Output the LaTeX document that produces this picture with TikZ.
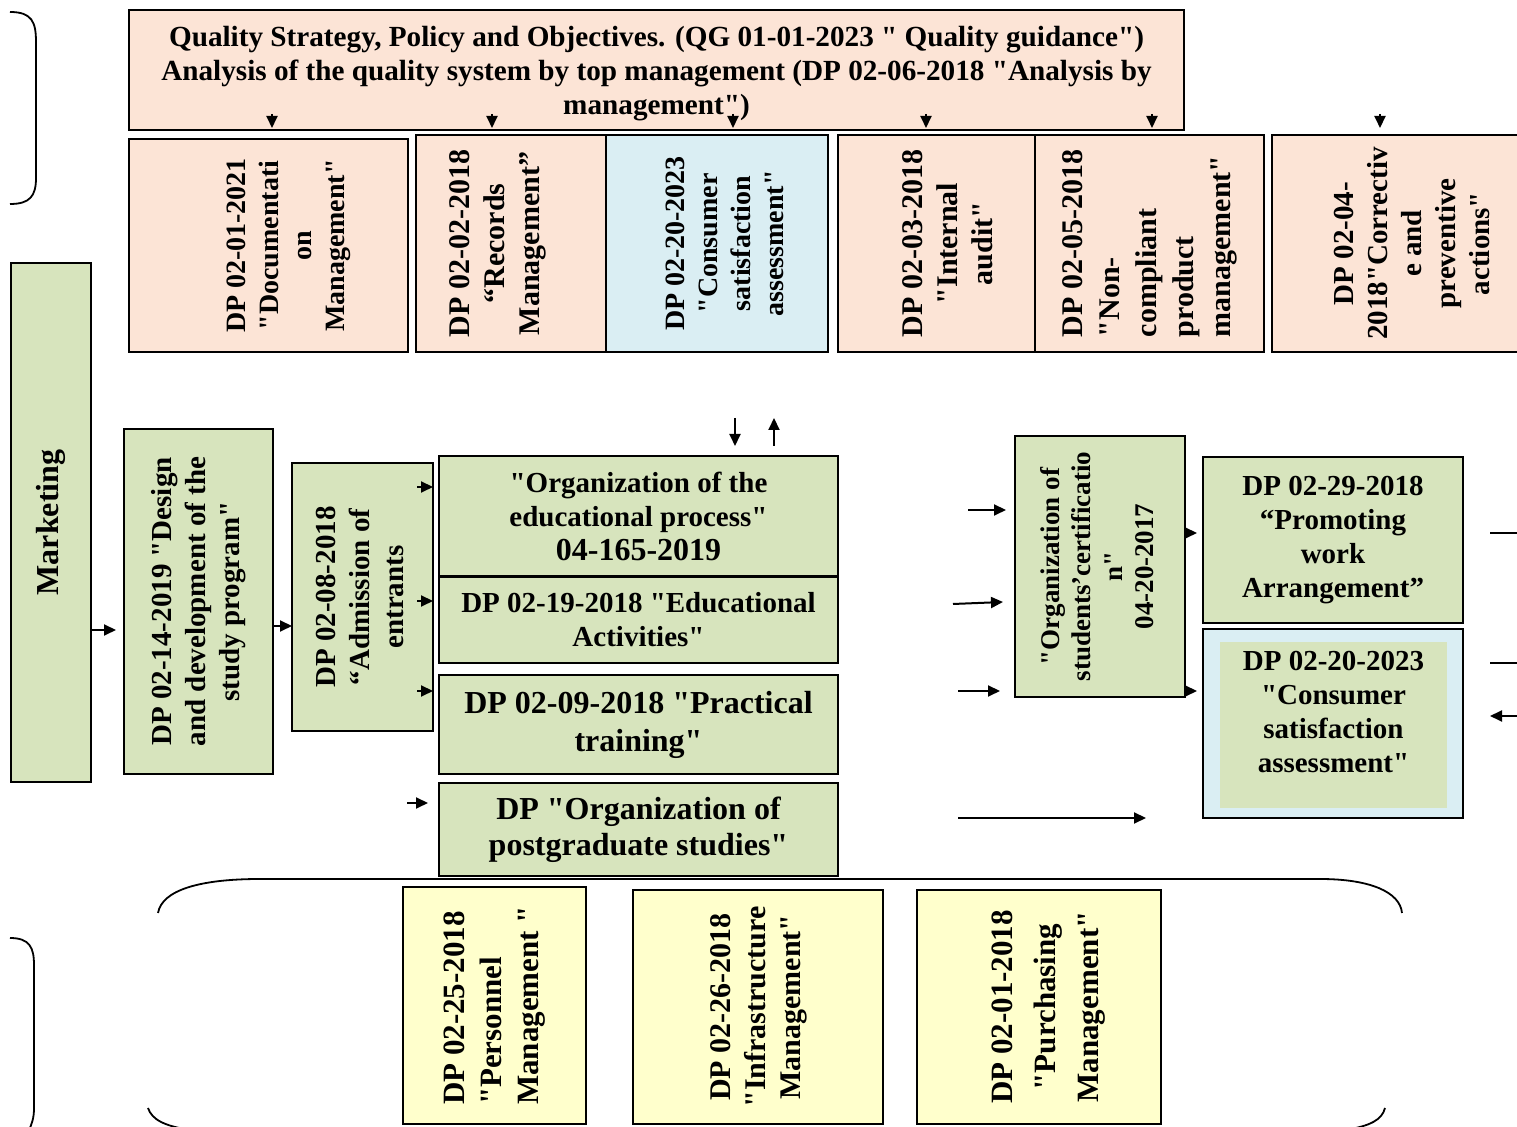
\documentclass[tikz,border=0pt]{standalone}
\usepackage{fontspec}
\setmainfont{Liberation Serif}[Ligatures=TeXOff]
\usepackage{graphicx}
\usetikzlibrary{arrows.meta}
\definecolor{peach}{RGB}{252,228,214}
\definecolor{leaf}{RGB}{215,228,189}
\definecolor{sky}{RGB}{218,238,243}
\definecolor{cream}{RGB}{255,255,204}
\newcommand{\vtext}[2][c]{\rotatebox{90}{\begin{tabular}{@{}#1@{}}#2\end{tabular}}}
\newcommand{\fs}[2]{\bfseries\fontsize{#1}{#2}\selectfont}

\begin{document}
\begin{tikzpicture}[x=0.5pt, y=-0.5pt,
    every node/.style={
    rectangle,
    draw,
    line width=0.9pt,
    inner sep=0pt,
    outer sep=0pt,
    font=\fs{14.5}{17}
},
    tip/.style={-{Triangle[length=6pt,width=5.5pt]}, line width=1pt},
    brace/.style={line width=0.9pt}
]
    \useasboundingbox (0,0) rectangle (1517,1127);
    \clip (0,0) rectangle (1517,1127);
    % top part
    \node (quality) [fill=peach, minimum width=527.5pt, minimum height=60pt, align=center, text depth=0pt, font=\fs{14.6}{17}] at (656.5,70)
    {
        Quality Strategy, Policy and Objectives. (QG 01-01-2023 " Quality guidance")\\
        Analysis of the quality system by top management (DP 02-06-2018 "Analysis by\\
        management")
    };
    \node (docs_mgmt) [fill=peach, minimum width=139.5pt, minimum height=106.5pt, font=\fs{14}{16.5}] at (268.5,245.5)
    {
        \hspace*{20pt}\vtext{DP 02-01-2021\\"Documentati\\on\\Management"}
    };
    \node (records_mgmt) [fill=peach, minimum width=95pt, minimum height=108.5pt, font=\fs{15}{17.5}] at (511,243.5)
    {
        \vtext{DP 02-02-2018\\“Records\\Management”}\hspace*{14pt}
    };
    \node (consumer_top) [fill=sky, minimum width=111pt, minimum height=108.5pt, font=\fs{14}{16.5}] at (717,243.5)
    {
        \hspace*{10pt}\vtext{DP 02-20-2023\\"Consumer\\satisfaction\\assessment"}
    };
    \node (internal_audit) [fill=peach, minimum width=98.5pt, minimum height=108.5pt, font=\fs{15}{17.5}] at (936.5,243.5)
    {
        \hspace*{14pt}\vtext{DP 02-03-2018\\"Internal\\audit"}
    };
    \node (noncompliant) [fill=peach, minimum width=114.5pt, minimum height=108.5pt, font=\fs{15}{18.5}] at (1149.5,243.5)
    {
        \vtext[l]{DP 02-05-2018\\"Non-\\compliant\\product\\management"}
    };
    \node (corrective) [fill=peach, minimum width=127pt, minimum height=108.5pt, font=\fs{14.5}{17}] at (1399,243.5)
    {
        \hspace*{16pt}\vtext{DP 02-04-\\2018"Correctiv\\e and\\preventive\\actions"}
    };
    \foreach \x in {272,492,733,926,1152,1380}
        \draw[tip] (\x,114) -- (\x,128);

    % main process
    \node (marketing) [fill=leaf, minimum width=40pt, minimum height=259.5pt, font=\fs{16}{19}] at (51,522.5)
    {
        \vtext{Marketing}
    };
    \node (design_program) [fill=leaf, minimum width=74.5pt, minimum height=172.5pt] at (198.5,601.5)
    {
        \vtext{DP 02-14-2019 "Design\\and development of the\\study program"}
    };
    \node (admission) [fill=leaf, minimum width=70.5pt, minimum height=134pt] at (362.5,597)
    {
        \vtext{DP 02-08-2018\\“Admission of\\entrants}
    };
    \node (org_process) [fill=leaf, minimum width=199.5pt, minimum height=60pt, align=center] at (638.5,516)
    {
        "Organization of the\\
        educational process"\\
        {\fs{16}{18}04-165-2019}
    };
    \node (edu_activities) [fill=leaf, minimum width=199.5pt, minimum height=43pt, align=center] at (638.5,620)
    {
        DP 02-19-2018 "Educational\\
        Activities"
    };
    \node (practical_training) [fill=leaf, minimum width=199.5pt, minimum height=49.5pt, align=center, font=\fs{16}{19}] at (638.5,724.5)
    {
        DP 02-09-2018 "Practical\\
        training"
    };
    \node (postgrad) [fill=leaf, minimum width=199.5pt, minimum height=46.5pt, align=center, font=\fs{16}{18}] at (638.5,829.5)
    {
        DP "Organization of\\
        postgraduate studies"
    };
    \node (certification) [fill=leaf, minimum width=85pt, minimum height=130.5pt, font=\fs{13.5}{15.75}] at (1100,566.5)
    {
        \vtext{"Organization of\\students’certificatio\\n"\\04-20-2017}
    };
    \node (promoting_work) [fill=leaf, minimum width=130pt, minimum height=83pt, align=center] at (1333,540)
    {
        DP 02-29-2018\\
        “Promoting\\
        work\\
        Arrangement”
    };
    \node (consumer_side) [fill=sky, minimum width=130pt, minimum height=94.5pt] at (1333,723.5) {};
    \node (consumer_inner) [fill=leaf, draw=none, minimum width=113.5pt, minimum height=83pt, align=center, text depth=13pt] at (1333.5,725)
    {
        DP 02-20-2023\\
        "Consumer\\
        satisfaction\\
        assessment"
    };

    % resources
    \node (personnel) [fill=cream, minimum width=91.5pt, minimum height=118.5pt, font=\fs{15.5}{18.5}] at (494.5,1005.5)
    {
        \vtext[l]{DP 02-25-2018\\"Personnel\\Management "}
    };
    \node (infrastructure) [fill=cream, minimum width=125pt, minimum height=117pt, font=\fs{15}{17.5}] at (758,1007)
    {
        \vtext{DP 02-26-2018\\"Infrastructure\\Management"}
    };
    \node (purchasing) [fill=cream, minimum width=122pt, minimum height=117pt, font=\fs{15.5}{21.5}] at (1039,1007)
    {
        \hspace*{8pt}\vtext{DP 02-01-2018\\"Purchasing\\Management"}
    };

    % connectors
    \draw[tip] (marketing.east |- 0,630) -- ([xshift=-4pt]design_program.west |- 0,630);
    \draw[tip] (design_program.east |- 0,626) -- (admission.west |- 0,626);
    \foreach \y in {487,601,691}
        \draw[tip] ([xshift=-8pt]admission.east |- 0,\y) -- (admission.east |- 0,\y);
    \draw[tip] ([xshift=-16pt]postgrad.west |- 0,803) -- ([xshift=-5.5pt]postgrad.west |- 0,803);
    \draw[tip] (735,418) -- ([yshift=5pt]org_process.north -| 735,0);
    \draw[tip] ([yshift=5pt]org_process.north -| 774,0) -- (774,418);
    \draw[tip] (968,510) -- ([xshift=-4.5pt]certification.west |- 0,510);
    \draw[tip] (953,604) -- ([xshift=-6pt]certification.west |- 0,602);
    \draw[tip] (958,691) -- ([xshift=-7.5pt]certification.west |- 0,691);
    \draw[tip] (958,818) -- (1146,818);
    \draw[tip] (certification.east |- 0,533) -- ([xshift=-3pt]promoting_work.west |- 0,533);
    \draw[tip] (certification.east |- 0,691) -- ([xshift=-3pt]consumer_side.west |- 0,691);
    \draw[line width=1pt] (1490,533) -- (1525,533);
    \draw[line width=1pt] (1490,663) -- (1525,663);
    \draw[tip] (1525,716) -- (1490,716);

    % braces
    \draw[brace] (10,12) .. controls (32,12) and (36,22) .. (36,42) -- (36,178) .. controls (36,196) and (30,204) .. (10,204);
    \draw[brace] (10,938) .. controls (30,938) and (34,948) .. (34,965) -- (34,1108) .. controls (34,1118) and (32,1124) .. (28,1132);
    \draw[brace] (158,913) .. controls (162,890) and (200,879) .. (260,879) -- (1320,879) .. controls (1370,879) and (1400,892) .. (1402,913);
    \draw[brace] (148,1108) .. controls (152,1120) and (165,1126) .. (190,1130);
    \draw[brace] (1385,1108) .. controls (1382,1120) and (1370,1126) .. (1345,1130);
\end{tikzpicture}
\end{document}
